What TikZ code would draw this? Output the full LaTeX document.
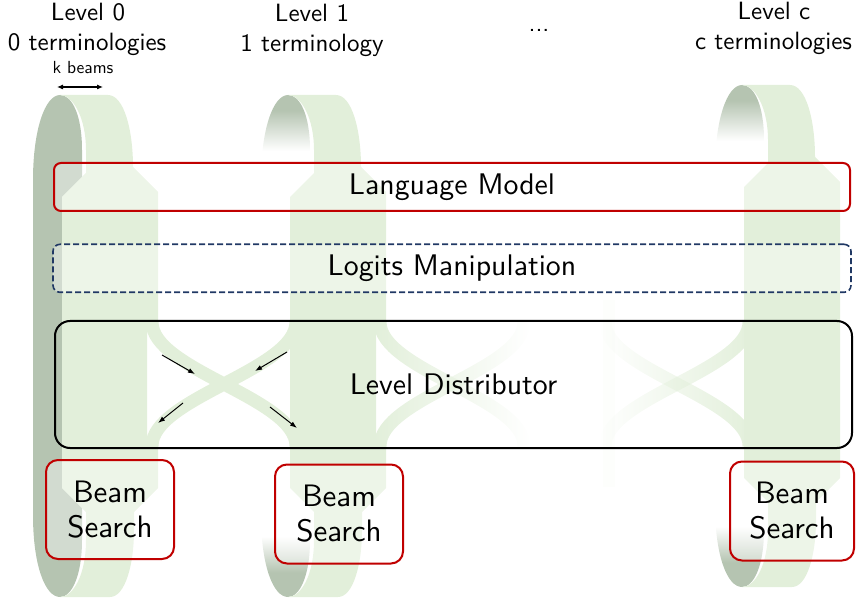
\documentclass[tikz,border=0pt]{standalone}
\usepackage{fontspec}
\setsansfont{lmsans10-regular.otf}[BoldFont=lmsans10-bold.otf]
\usetikzlibrary{fadings,arrows.meta}
\definecolor{lg}{HTML}{E2EFDA}
\definecolor{dg}{HTML}{B5C4B1}
\definecolor{rd}{HTML}{C00000}
\definecolor{nv}{HTML}{203864}
\tikzfading[name=fadeR, left color=transparent!0, right color=transparent!100]
\tikzfading[name=fadeL, left color=transparent!100, right color=transparent!0]
\pgfdeclareverticalshading{dfadetop}{100bp}{color(0bp)=(white); color(42bp)=(white); color(66bp)=(dg); color(100bp)=(dg)}
\pgfdeclareverticalshading{dfadebot}{100bp}{color(0bp)=(dg); color(40bp)=(dg); color(62bp)=(white); color(100bp)=(white)}
\newcommand\lightstrand[1]{%
  \fill[lg] (60,95) -- (108,95) .. controls (124,95) and (133,130) .. (133,167)
    -- (158,192) -- (158,330) -- (#1,330) -- (#1,440) -- (158,440) -- (158,488)
    -- (134,512) -- (134,530) .. controls (134,565) and (125,597) .. (110,597)
    -- (60,597) .. controls (73,597) and (86,575) .. (86,540) -- (86,512)
    -- (62,488) -- (62,197) -- (86,173) -- (86,150)
    .. controls (86,118) and (73,95) .. (60,95) -- cycle;}
\newcommand\darkfull{%
  \fill[dg] (33,180) .. controls (33,130) and (45,95) .. (60,95)
    .. controls (72,95) and (82,115) .. (82,150) -- (82,540)
    .. controls (82,575) and (72,597) .. (60,597)
    .. controls (45,597) and (33,565) .. (33,515) -- cycle;}
\newcommand\darkfaded{%
  \shade[shading=dfadetop] (33,180) .. controls (33,130) and (45,95) .. (60,95)
    .. controls (72,95) and (82,115) .. (82,150) -- (82,180) -- cycle;
  \shade[shading=dfadebot] (33,515) -- (82,515) -- (82,540)
    .. controls (82,575) and (72,597) .. (60,597)
    .. controls (45,597) and (33,565) .. (33,515) -- cycle;}
\begin{document}
\begin{tikzpicture}[x=1pt,y=-1pt,
  band/.style={draw=lg, line width=13pt},
  glass/.style={fill=white, fill opacity=0.4, text opacity=1},
  boxtxt/.style={font=\sffamily\fontsize{29.8}{35}\selectfont, text=black, align=center, inner sep=0pt},
  lmbox/.style={draw=rd, line width=2pt, rounded corners=7pt, glass, boxtxt, minimum width=796pt, minimum height=48pt},
  logitbox/.style={draw=nv, line width=1.6pt, dash pattern=on 6pt off 3pt, rounded corners=7pt, glass, boxtxt, minimum width=798pt, minimum height=48pt},
  distbox/.style={draw=black, line width=2pt, rounded corners=15pt, boxtxt, minimum width=797pt, minimum height=127pt},
  bsbox/.style={draw=rd, line width=2pt, rounded corners=12pt, glass, boxtxt, font=\sffamily\fontsize{31}{35}\selectfont, minimum height=99pt},
  hdr/.style={font=\sffamily\fontsize{25}{28}\selectfont, inner sep=0pt, anchor=base},
  small/.style={font=\sffamily\fontsize{17.5}{20}\selectfont, inner sep=0pt, anchor=base},
  kar/.style={{Latex[length=6pt,width=5pt]}-{Latex[length=6pt,width=5pt]}, line width=1.1pt},
  dar/.style={-{Latex[length=7pt,width=5pt]}, line width=1pt}
]
\useasboundingbox (0,0) rectangle (856,601);
% faint strand
\fill[lg, opacity=0.08] (603,300) rectangle (615,487);
% level 0 ribbon
\darkfull
\lightstrand{147}
% level 1 ribbon
\begin{scope}[shift={(228,0)}]
  \darkfaded
  \lightstrand{148}
\end{scope}
% level c ribbon
\begin{scope}[shift={(682,-10)}]
  \darkfaded
  \lightstrand{158}
\end{scope}
% crossings
\coordinate (a0) at (152,322); \coordinate (a1) at (296,446);
\coordinate (b0) at (296,322); \coordinate (b1) at (152,446);
\draw[band] (a0) .. controls (152,370) and (296,398) .. (a1);
\draw[band] (b0) .. controls (296,370) and (152,398) .. (b1);
\coordinate (c0) at (380,322); \coordinate (c1) at (524,446);
\coordinate (d0) at (524,322); \coordinate (d1) at (380,446);
\draw[band, path fading=fadeR] (c0) .. controls (380,370) and (524,398) .. (c1);
\draw[band, path fading=fadeR] (d0) .. controls (524,370) and (380,398) .. (d1);
\coordinate (e0) at (605,322); \coordinate (e1) at (749,446);
\coordinate (f0) at (749,322); \coordinate (f1) at (605,446);
\draw[band, path fading=fadeL] (e0) .. controls (605,370) and (749,398) .. (e1);
\draw[band, path fading=fadeL] (f0) .. controls (749,370) and (605,398) .. (f1);
% boxes
\node[lmbox] (lm) at (452,187) {Language Model};
\node[logitbox] (logit) at (452,268.3) {Logits Manipulation};
\node[distbox] (dist) at (453.5,384.5) {Level Distributor};
\node[bsbox, minimum width=128pt] (bs0) at (110,509.5) {Beam\\Search};
\node[bsbox, minimum width=128pt] (bs1) at (339,514) {Beam\\Search};
\node[bsbox, minimum width=124pt] (bsc) at (792,511) {Beam\\Search};
% arrows in distributor
\coordinate (p1) at (162,355); \coordinate (q1) at (195,374);
\coordinate (p2) at (287,352); \coordinate (q2) at (255,371);
\coordinate (p3) at (183,403); \coordinate (q3) at (158,423);
\coordinate (p4) at (270,407); \coordinate (q4) at (297,428);
\draw[dar] (p1) -- (q1);
\draw[dar] (p2) -- (q2);
\draw[dar] (p3) -- (q3);
\draw[dar] (p4) -- (q4);
% headers
\node[hdr] (h0a) at (88,21) {Level 0};
\node[hdr] (h0b) at (87,51) {0 terminologies};
\node[hdr] (h1a) at (312,22) {Level 1};
\node[hdr] (h1b) at (312,52) {1 terminology};
\node[hdr] (hdots) at (539,32) {...};
\node[hdr] (hca) at (774,20) {Level c};
\node[hdr] (hcb) at (773.5,50) {c terminologies};
\node[small] (kb) at (83,74) {k beams};
\coordinate (kL) at (57,87); \coordinate (kR) at (103,87);
\draw[kar] (kL) -- (kR);
\end{tikzpicture}
\end{document}
